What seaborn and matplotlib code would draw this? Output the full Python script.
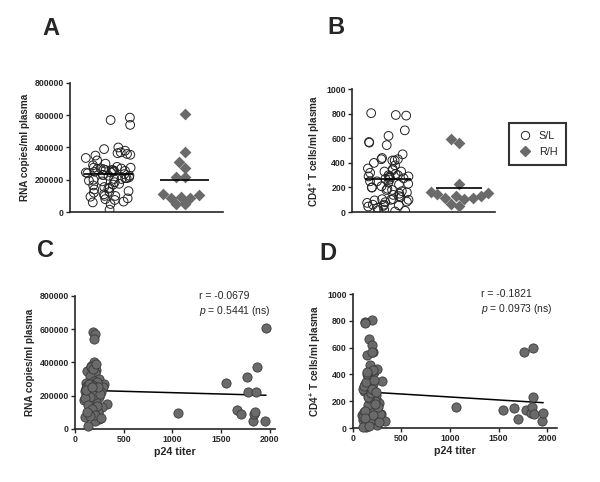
import numpy as np
import pandas as pd
import matplotlib
matplotlib.use("Agg")
import matplotlib.pyplot as plt
from matplotlib.lines import Line2D
import seaborn as sns

# ======================================
# DATA
# ======================================
# S/L group: p24 titer, RNA copies (x1000) and CD4+ counts per patient
sl_p24 = [180, 205, 195, 190, 170, 125, 220, 210, 150, 250,
          300, 290, 160, 115, 195, 125, 200, 100, 175, 265,
          130, 185, 130, 155, 110, 245, 120, 215, 90, 145,
          330, 275, 195, 235, 250, 205, 135, 105, 165, 240,
          180, 120, 160, 210, 195, 140, 230, 170, 115, 190,
          255, 150, 100, 225, 130, 175, 205, 155, 265, 125,
          185, 215, 145, 195, 110, 240, 170]
sl_rna = [585, 570, 540, 400, 365, 350, 355, 335, 320, 300,
          270, 250, 380, 275, 290, 260, 245, 230, 240, 225,
          260, 215, 205, 210, 200, 195, 170, 165, 175, 155,
          150, 130, 125, 95, 60, 50, 15, 75, 110, 100,
          265, 255, 370, 275, 230, 225, 280, 265, 245, 205,
          210, 190, 185, 140, 145, 120, 85, 80, 65, 100,
          360, 390, 270, 260, 235, 255, 250]
sl_cd4 = [320, 180, 250, 430, 665, 300, 420, 565, 280, 200,
          350, 105, 150, 290, 805, 790, 620, 100, 470, 190,
          330, 240, 785, 380, 60, 440, 275, 210, 95, 545,
          50, 105, 80, 35, 20, 330, 10, 290, 140, 250,
          300, 310, 170, 430, 570, 340, 200, 225, 120, 60,
          160, 400, 85, 180, 130, 55, 100, 230, 45, 75,
          265, 355, 420, 290, 5, 270, 15]

# R/H group
rh_p24 = [1060, 1550, 1660, 1700, 1760, 1780, 1830, 1840, 1850, 1860, 1870, 1950, 1960]
rh_rna = [95, 275, 115, 90, 310, 220, 50, 90, 105, 220, 370, 50, 610]
rh_cd4 = [157, 132, 149, 67, 565, 132, 115, 160, 230, 595, 107, 50, 115]

GROUPS = ["S/L", "R/H"]
r_text = {"rna": ("-0.0679", "0.5441"), "cd4": ("-0.1821", "0.0973")}

df = pd.DataFrame({
    "group": ["S/L"] * len(sl_p24) + ["R/H"] * len(rh_p24),
    "p24": sl_p24 + rh_p24,
    "rna": [v * 1000 for v in sl_rna + rh_rna],
    "cd4": sl_cd4 + rh_cd4,
})

# ======================================
# STYLE
# ======================================
sns.set_style("ticks")
plt.rcParams["font.family"] = ["Liberation Sans", "DejaVu Sans"]
plt.rcParams["mathtext.fontset"] = "custom"
plt.rcParams["mathtext.rm"] = "Liberation Sans"
plt.rcParams["mathtext.it"] = "Liberation Sans:italic"
plt.rcParams["mathtext.bf"] = "Liberation Sans:bold"
plt.rcParams["axes.linewidth"] = 1.2

GRAY = "#6a6a6a"
EDGE = "#3a3a3a"
TICK_FS = 6.3
LABEL_FS = 7.2

fig = plt.figure(figsize=(6.0, 4.82), dpi=100)
ax_a = fig.add_axes([0.117, 0.560, 0.255, 0.268])
ax_b = fig.add_axes([0.587, 0.560, 0.238, 0.255])
ax_c = fig.add_axes([0.125, 0.110, 0.333, 0.276])
ax_d = fig.add_axes([0.588, 0.112, 0.340, 0.278])

ylabels = {"rna": "RNA copies/ml plasma",
           "cd4": "CD4$^{\\mathbf{+}}$ T cells/ml plasma"}


def style_axis(ax):
    sns.despine(ax=ax)
    ax.tick_params(axis="both", labelsize=TICK_FS, width=1.0, length=3, pad=1.5)
    for lab in ax.get_xticklabels() + ax.get_yticklabels():
        lab.set_fontweight("bold")


# ======================================
# A / B : column scatter per group
# ======================================
np.random.seed(4)
for ax, col, ylim, yticks in [(ax_a, "rna", 800000, np.arange(0, 800001, 200000)),
                              (ax_b, "cd4", 1000, np.arange(0, 1001, 200))]:
    sl = df[df["group"] == "S/L"]
    rh = df[df["group"] == "R/H"]
    sns.stripplot(data=sl, x="group", y=col, order=GROUPS, ax=ax, jitter=0.3,
                  marker="o", size=6.3, color="white", edgecolor="#222222",
                  linewidth=0.7)
    # open circles: drop the fill so overlapping rings stay visible
    for coll in ax.collections:
        coll.set_facecolor("none")
    sns.swarmplot(data=rh, x="group", y=col, order=GROUPS, ax=ax,
                  marker="D", size=6.0, color=GRAY, linewidth=0)
    for i, g in enumerate(GROUPS):
        m = df.loc[df["group"] == g, col].mean()
        ax.hlines(m, i - 0.32, i + 0.32, color="black", linewidth=1.2, zorder=5)
    ax.set_xlim(-0.5, 1.5)
    ax.set_ylim(0, ylim)
    ax.set_yticks(yticks)
    ax.set_xticks([])
    ax.set_xlabel("")
    ax.set_ylabel(ylabels[col], fontsize=LABEL_FS, fontweight="bold", labelpad=3)
    style_axis(ax)

# ======================================
# C / D : correlation with p24 titer
# ======================================
for ax, col, ylim, yticks, xmax, tx in [
        (ax_c, "rna", 800000, np.arange(0, 800001, 200000), 2050, 0.62),
        (ax_d, "cd4", 1000, np.arange(0, 1001, 200), 2100, 0.63)]:
    sns.scatterplot(data=df, x="p24", y=col, ax=ax, s=44, color=GRAY,
                    edgecolor=EDGE, linewidth=0.6, zorder=3, clip_on=False)
    sns.regplot(data=df, x="p24", y=col, ax=ax, scatter=False, ci=None,
                line_kws={"color": "black", "linewidth": 1.1})
    ax.set_xlim(0, xmax)
    ax.set_ylim(0, ylim)
    ax.set_xticks([0, 500, 1000, 1500, 2000])
    ax.set_yticks(yticks)
    ax.set_xlabel("p24 titer", fontsize=LABEL_FS + 0.5, fontweight="bold", labelpad=2)
    ax.set_ylabel(ylabels[col], fontsize=LABEL_FS, fontweight="bold", labelpad=3)
    r, p = r_text[col]
    ax.text(tx, 1.04, f"r = {r}\n$p$ = {p} (ns)", transform=ax.transAxes,
            ha="left", va="top", fontsize=7.5, linespacing=1.3)
    style_axis(ax)

# panel letters
for x, y, s in [(0.07, 0.94, "A"), (0.545, 0.942, "B"),
                (0.062, 0.48, "C"), (0.533, 0.475, "D")]:
    fig.text(x, y, s, fontsize=17, fontweight="bold", ha="left", va="center")

# legend
handles = [
    Line2D([], [], marker="o", linestyle="none", markersize=6, markerfacecolor="none",
           markeredgecolor="#222222", markeredgewidth=0.7),
    Line2D([], [], marker="D", linestyle="none", markersize=5, markerfacecolor=GRAY,
           markeredgecolor=GRAY),
]
leg = fig.legend(handles, GROUPS, loc="upper left", bbox_to_anchor=(0.840, 0.757),
                 fontsize=7.8, frameon=True, fancybox=False, handlelength=1.2,
                 handletextpad=0.7, borderpad=0.8, labelspacing=0.5)
leg.get_frame().set_edgecolor("black")
leg.get_frame().set_linewidth(1.5)

fig.savefig("out.png", dpi=100)
